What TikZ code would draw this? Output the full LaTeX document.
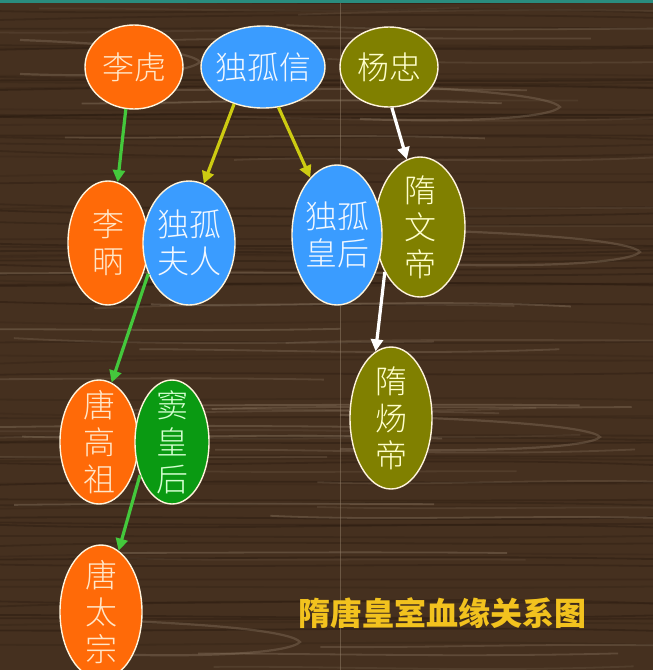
\documentclass[tikz,border=0pt]{standalone}
\usepackage{fontspec}
\newfontfamily\cjk{Noto Sans CJK SC}
\newfontfamily\cjkl{Noto Sans CJK SC Light}
\usetikzlibrary{shapes.geometric,arrows.meta}
\definecolor{woodbg}{HTML}{45301F}
\definecolor{grainlight}{HTML}{94806A}
\definecolor{graindark}{HTML}{2A1B10}
\definecolor{tealbar}{HTML}{2A8C7E}
\definecolor{orng}{HTML}{FF6A08}
\definecolor{blu}{HTML}{3A9CFF}
\definecolor{olv}{HTML}{808000}
\definecolor{grn}{HTML}{0A9A12}
\definecolor{edge}{HTML}{FFF4DC}
\definecolor{torng}{HTML}{FFE6C8}
\definecolor{tblu}{HTML}{F2F8FF}
\definecolor{tolv}{HTML}{FFFFCC}
\definecolor{tgrn}{HTML}{D4FFD0}
\definecolor{agreen}{HTML}{44C83C}
\definecolor{ayellow}{HTML}{CDCB12}
\definecolor{awhite}{HTML}{FFFFFF}
\definecolor{gold}{HTML}{F2C21E}
\tikzset{
  pers/.style={ellipse, draw=edge, line width=1.4pt, inner sep=0pt},
  txt/.style={font=\cjkl\fontsize{32}{37}\selectfont, align=center, inner sep=0pt},
  arr/.style={line width=3.2pt, -{Triangle[length=12pt,width=12pt]}},
  grainl/.style={grainlight, line width=1.8pt},
  graind/.style={graindark, line width=1.8pt}
}
\begin{document}
\begin{tikzpicture}[x=1pt,y=-1pt]
\useasboundingbox (0,0) rectangle (653,670);
\clip (0,0) rectangle (653,670);
% wood background
\fill[woodbg] (0,0) rectangle (653,670);
\pgfmathsetseed{5}
\foreach \i in {1,...,80}{
  \pgfmathsetmacro\yy{rnd*690-10}
  \pgfmathsetmacro\da{(rnd-0.5)*18}
  \pgfmathsetmacro\db{(rnd-0.5)*18}
  \pgfmathsetmacro\op{0.15+rnd*0.35}
  \draw[graind, opacity=\op] (-10,\yy) .. controls (210,{\yy+\da}) and (440,{\yy+\db}) .. (663,{\yy+0.4*\da});
}
\foreach \i in {1,...,45}{
  \pgfmathsetmacro\yy{rnd*690-10}
  \pgfmathsetmacro\da{(rnd-0.5)*14}
  \pgfmathsetmacro\db{(rnd-0.5)*14}
  \pgfmathsetmacro\op{0.12+rnd*0.28}
  \pgfmathsetmacro\xs{rnd*450-120}
  \draw[grainl, opacity=\op] (\xs,\yy) .. controls ({\xs+120},{\yy+\da}) and ({\xs+260},{\yy+\db}) .. ({\xs+420},{\yy+0.5*\da});
}
% a few hairpin grain figures
\foreach \hx/\hy/\hw in {600/435/260, 560/105/200, 200/60/180, 640/250/220, 300/640/200}{
  \draw[grainl, opacity=0.35, line width=2.2pt]
    ({\hx-\hw},{\hy+14}) .. controls ({\hx-0.4*\hw},{\hy+18}) and ({\hx-10},{\hy+12}) .. (\hx,{\hy+2})
    .. controls ({\hx-8},{\hy-8}) and ({\hx-0.4*\hw},{\hy-16}) .. ({\hx-\hw},{\hy-20});
}
\fill[tealbar] (0,0) rectangle (653,3);
\draw[grainlight, opacity=0.5, line width=0.8pt] (340,3) -- (340,670);

% people
\node[pers, fill=orng, minimum width=98, minimum height=84,
  label={[txt,text=torng]center:{李虎}}] (lihu) at (134,67) {};
\node[pers, fill=blu, minimum width=124, minimum height=82,
  label={[txt,text=tblu]center:{独孤信}}] (duguxin) at (263,67) {};
\node[pers, fill=olv, minimum width=98, minimum height=80,
  label={[txt,text=tolv]center:{杨忠}}] (yangzhong) at (389,67) {};

\node[pers, fill=orng, minimum width=80, minimum height=124,
  label={[txt,text=torng]center:{李\\昞}}] (libing) at (108,243) {};
\node[pers, fill=blu, minimum width=92, minimum height=124,
  label={[txt,text=tblu]center:{独孤\\夫人}}] (furen) at (189,243) {};

\node[pers, fill=olv, minimum width=90, minimum height=140,
  label={[txt,text=tolv]center:{隋\\文\\帝}}] (suiwen) at (420,227) {};
\node[pers, fill=blu, minimum width=90, minimum height=140,
  label={[txt,text=tblu]center:{独孤\\皇后}}] (huanghou) at (337,235) {};

\node[pers, fill=olv, minimum width=82, minimum height=142,
  label={[txt,text=tolv]center:{隋\\炀\\帝}}] (suiyang) at (391,418) {};

\node[pers, fill=orng, minimum width=78, minimum height=124,
  label={[txt,text=torng]center:{唐\\高\\祖}}] (gaozu) at (99,442) {};
\node[pers, fill=grn, minimum width=74, minimum height=124,
  label={[txt,text=tgrn]center:{窦\\皇\\后}}] (dou) at (172,442) {};

\node[pers, fill=orng, minimum width=82, minimum height=134,
  label={[txt,text=torng]center:{唐\\太\\宗}}] (taizong) at (101,612) {};

% connectors
\draw[arr, agreen] (lihu.259) -- (libing.81);
\draw[arr, ayellow] (duguxin.232) -- (furen.76);
\draw[arr, ayellow] (duguxin.291) -- (huanghou.115);
\draw[arr, awhite] (yangzhong.274) -- (suiwen.101);
\draw[arr, awhite] (suiwen.232) -- (suiyang.103);
\draw[arr, agreen] (furen.217) -- (gaozu.78);
\draw[arr, agreen] (dou.226) -- (taizong.74);

% title
\node[font=\cjk\bfseries\fontsize{32}{36}\selectfont, text=gold, inner sep=0pt] (title) at (442,613) {隋唐皇室血缘关系图};
\end{tikzpicture}
\end{document}
